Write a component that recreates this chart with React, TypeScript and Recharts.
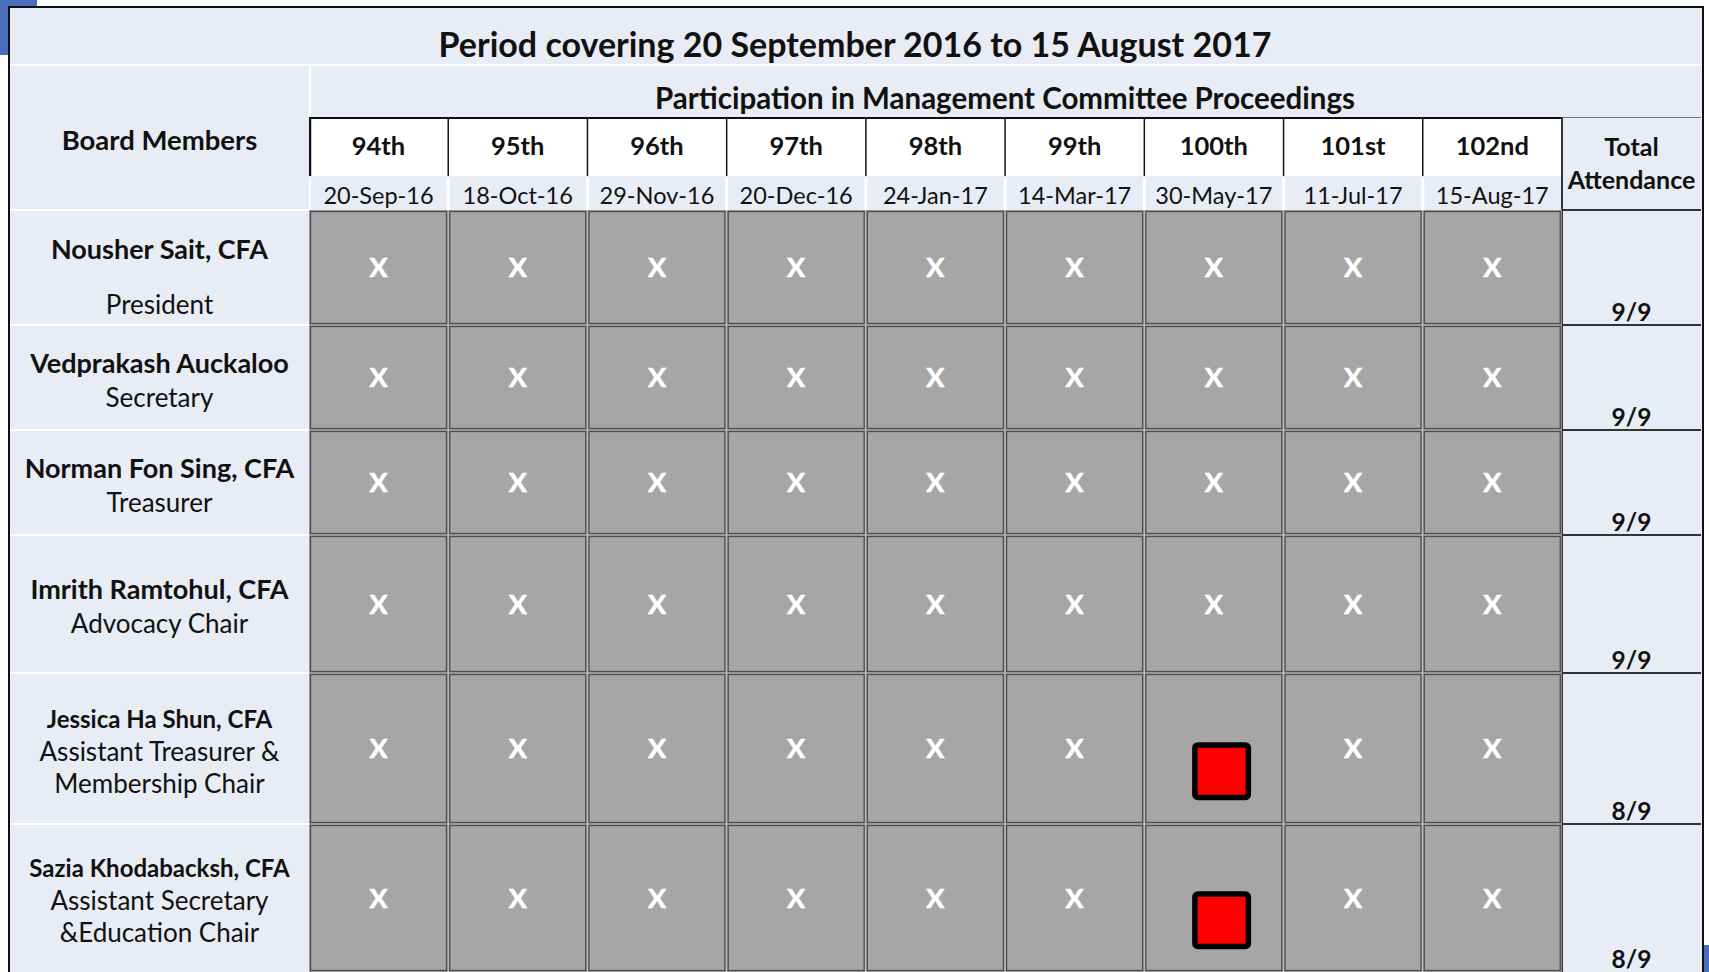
import React from 'react';
import { BarChart, Bar, XAxis, YAxis } from 'recharts';

const meetings = ['94th', '95th', '96th', '97th', '98th', '99th', '100th', '101st', '102nd'];
const meetingDates = ['20-Sep-16', '18-Oct-16', '29-Nov-16', '20-Dec-16', '24-Jan-17', '14-Mar-17', '30-May-17', '11-Jul-17', '15-Aug-17'];
const memberNames = ['Nousher Sait, CFA', 'Vedprakash Auckaloo', 'Norman Fon Sing, CFA', 'Imrith Ramtohul, CFA', 'Jessica Ha Shun, CFA', 'Sazia Khodabacksh, CFA'];
const memberRoles = [['President'], ['Secretary'], ['Treasurer'], ['Advocacy Chair'], ['Assistant Treasurer &', 'Membership Chair'], ['Assistant Secretary', '&Education Chair']];
// 1 = present, 0 = absent
const attendance = [
  [1, 1, 1, 1, 1, 1, 1, 1, 1],
  [1, 1, 1, 1, 1, 1, 1, 1, 1],
  [1, 1, 1, 1, 1, 1, 1, 1, 1],
  [1, 1, 1, 1, 1, 1, 1, 1, 1],
  [1, 1, 1, 1, 1, 1, 0, 1, 1],
  [1, 1, 1, 1, 1, 1, 0, 1, 1],
];

const FONT = 'Lato, "Open Sans", sans-serif';
const BG = '#E8ECF4';
const GRID_LEFT = 309;
const GRID_W = 1253;
const TOTAL_LEFT = 1562;
const TOTAL_W = 139;
const HEAD_TOP = 117;
const HEAD_H = 93;
const ROW_H = [115, 105, 105, 138, 151, 148];
const ROW_TOP = ROW_H.reduce((acc: number[], h, i) => {
  acc.push(i === 0 ? HEAD_TOP + HEAD_H : acc[i - 1] + ROW_H[i - 1]);
  return acc;
}, []);

const HeaderCell = (props: any) => {
  const { x, y, width, height, payload, index } = props;
  const whiteH = 59;
  return (
    <g>
      <rect x={x} y={y} width={width} height={whiteH} fill="#fff" />
      <line x1={x} y1={y + 1} x2={x + width} y2={y + 1} stroke="#111" strokeWidth={2} />
      <line x1={x + (index === 0 ? 1 : 0)} y1={y} x2={x + (index === 0 ? 1 : 0)} y2={y + whiteH} stroke="#111" strokeWidth={index === 0 ? 2.5 : 1.5} />
      <line x1={x} y1={y + whiteH + 2} x2={x} y2={y + height} stroke="#fff" strokeWidth={3} />
      <text x={x + width / 2} y={y + 29} dy="0.36em" textAnchor="middle" fontFamily={FONT} fontWeight="bold" fontSize={25.5} fill="#111">
        {payload.meeting}
      </text>
      <text x={x + width / 2} y={y + 79} dy="0.36em" textAnchor="middle" fontFamily={FONT} fontSize={23.5} fill="#111">
        {payload.date}
      </text>
    </g>
  );
};

const AttendanceCell = (props: any) => {
  const { x, y, width, height, payload } = props;
  return (
    <g>
      <rect x={x} y={y} width={width} height={height} fill="#A6A6A6" />
      <rect x={x + 1.5} y={y + 1.5} width={width - 3} height={height - 3} fill="none" stroke="#4D4D4D" strokeWidth={1.3} />
      {payload.present ? (
        <text
          x={x + width / 2}
          y={y + height / 2}
          dy="0.36em"
          textAnchor="middle"
          fontFamily={FONT}
          fontWeight="bold"
          fontSize={27}
          fill="#fff"
          stroke="#fff"
          strokeWidth={0.6}
        >
          X
        </text>
      ) : (
        <rect
          x={x + width * 0.556 - 26.75}
          y={y + height * 0.65 - 26.25}
          width={53.5}
          height={52.5}
          rx={3}
          fill="#FF0000"
          stroke="#000"
          strokeWidth={5.5}
        />
      )}
    </g>
  );
};

const headerData = meetings.map((m, i) => ({ meeting: m, date: meetingDates[i] }));

function MemberRow({ row }: { row: number }) {
  const data = meetings.map((m, i) => ({ meeting: m, present: attendance[row][i] }));
  return (
    <BarChart width={GRID_W} height={ROW_H[row]} data={data} margin={{ top: 0, right: 0, bottom: 0, left: 0 }} barCategoryGap={0}>
      <XAxis dataKey="meeting" hide />
      <YAxis hide domain={[0, 1]} type="number" />
      <Bar dataKey={() => 1} shape={AttendanceCell} isAnimationActive={false} />
    </BarChart>
  );
}

export default function App() {
  const totals = attendance.map((r) => r.reduce((a, b) => a + b, 0));
  const small = [false, false, false, false, true, true];
  return (
    <div style={{ position: 'absolute', left: 0, top: 0, width: 1709, height: 972, overflow: 'hidden', background: '#fff', fontFamily: FONT, color: '#111' }}>
      <div style={{ position: 'absolute', left: 0, top: 0, width: 37, height: 55, background: '#4A6DBE' }} />
      <div style={{ position: 'absolute', left: 1703, top: 945, width: 6, height: 27, background: '#4A6DBE' }} />
      <div style={{ position: 'absolute', left: 8, top: 6, width: 1692, height: 1000, background: BG, borderLeft: '2px solid #111', borderTop: '2px solid #111', borderRight: '2px solid #111' }} />

      <div style={{ position: 'absolute', left: 10, top: 21, width: 1690, textAlign: 'center', fontWeight: 'bold', fontSize: 34, lineHeight: '46px' }}>
        Period covering 20 September 2016 to 15 August 2017
      </div>
      <div style={{ position: 'absolute', left: 10, top: 64, width: 1690, height: 2, background: '#fff' }} />
      <div style={{ position: 'absolute', left: GRID_LEFT, top: 66, width: 2, height: 51, background: '#fff' }} />
      <div style={{ position: 'absolute', left: GRID_LEFT, top: 79, width: 1392, textAlign: 'center', fontWeight: 'bold', fontSize: 29.5, lineHeight: '38px' }}>
        Participation in Management Committee Proceedings
      </div>
      <div style={{ position: 'absolute', left: 10, top: 121, width: 299, textAlign: 'center', fontWeight: 'bold', fontSize: 27.5, lineHeight: '38px' }}>
        Board Members
      </div>

      <div style={{ position: 'absolute', left: GRID_LEFT, top: HEAD_TOP }}>
        <BarChart width={GRID_W} height={HEAD_H} data={headerData} margin={{ top: 0, right: 0, bottom: 0, left: 0 }} barCategoryGap={0}>
          <XAxis dataKey="meeting" hide />
          <YAxis hide domain={[0, 1]} type="number" />
          <Bar dataKey={() => 1} shape={HeaderCell} isAnimationActive={false} />
        </BarChart>
      </div>

      <div style={{ position: 'absolute', left: TOTAL_LEFT, top: HEAD_TOP, width: TOTAL_W, height: 1, background: '#777' }} />
      <div style={{ position: 'absolute', left: TOTAL_LEFT - 1, top: HEAD_TOP, width: 2, height: 900, background: '#333' }} />
      <div style={{ position: 'absolute', left: TOTAL_LEFT, top: 130, width: TOTAL_W, textAlign: 'center', fontWeight: 'bold', fontSize: 25, lineHeight: '33px' }}>
        Total
        <br />
        Attendance
      </div>

      {memberNames.map((name, i) => (
        <React.Fragment key={name}>
          <div style={{ position: 'absolute', left: 10, top: ROW_TOP[i] - 1, width: 299, height: 2, background: '#fff' }} />
          <div
            style={{
              position: 'absolute',
              left: 10,
              top: ROW_TOP[i] + (i === 0 ? 9 : 2),
              width: 299,
              height: ROW_H[i],
              display: 'flex',
              flexDirection: 'column',
              justifyContent: 'center',
              alignItems: 'center',
              lineHeight: small[i] ? '32px' : '35px',
              whiteSpace: 'nowrap',
            }}
          >
            <div style={{ fontWeight: 'bold', fontSize: small[i] ? 24 : 27, marginBottom: i === 0 ? 21 : 0 }}>{name}</div>
            {memberRoles[i].map((r) => (
              <div key={r} style={{ fontSize: 26 }}>{r}</div>
            ))}
          </div>
          <div style={{ position: 'absolute', left: GRID_LEFT, top: ROW_TOP[i] }}>
            <MemberRow row={i} />
          </div>
          <div style={{ position: 'absolute', left: TOTAL_LEFT, top: ROW_TOP[i] - 1, width: TOTAL_W, height: 2, background: '#333' }} />
          <div style={{ position: 'absolute', left: TOTAL_LEFT, top: ROW_TOP[i] + ROW_H[i] - 26, width: TOTAL_W, textAlign: 'center', fontWeight: 'bold', fontSize: 24.5, lineHeight: '26px' }}>
            {totals[i]}/{meetings.length}
          </div>
        </React.Fragment>
      ))}
    </div>
  );
}
